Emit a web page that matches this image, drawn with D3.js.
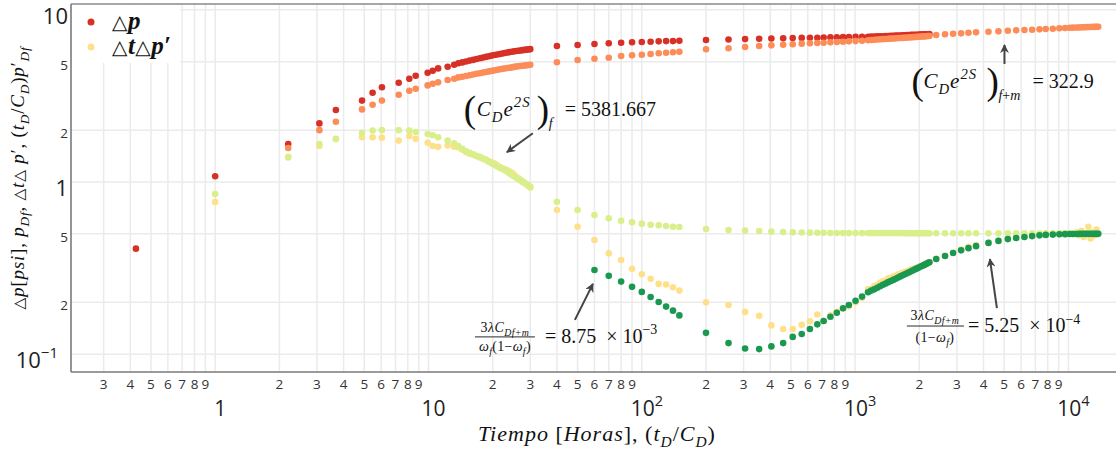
<!DOCTYPE html>
<html>
<head>
<meta charset="utf-8">
<script src="https://cdn.jsdelivr.net/npm/d3@7"></script>
<style>
  body { margin: 0; background: #fff; }
</style>
</head>
<body>
<div id="container"></div>
<script>
// ---- datos ----
let tiempo = [
  0.425, 1.0, 2.2, 3.08, 3.68, 4.88, 5.47, 6.05, 7.25, 8.13, 8.71, 9.91, 10.47, 11.1, 12.3, 13.2, 13.8,
  14.4, 15.0, 15.6, 16.2, 16.8, 17.4, 18.0, 18.6, 19.2, 19.8, 20.4, 21.0, 21.6, 22.2, 22.8, 23.4, 24.0, 24.6, 25.2, 25.8, 26.4, 27.0, 27.6, 28.2, 28.8, 29.4, 30.0,
  40, 50, 60, 70, 80, 90, 100, 110, 120, 130, 140, 150,
  200, 255, 305, 355, 405, 460, 510, 562, 614, 665, 712, 766, 821, 878, 935, 1005, 1078,
  1150, 1190, 1230, 1270, 1310, 1350, 1390, 1430, 1470, 1510, 1550, 1590, 1630, 1670, 1710, 1750, 1790, 1830, 1870, 1910, 1950, 1990, 2030, 2070, 2110, 2150, 2190, 2230,
  2400, 2640, 2880, 3140, 3400, 3690, 4220, 4700, 5200, 5690, 6220, 6760, 7320, 7830, 8450, 9070, 9640, 10130,
  10500, 10900, 11200, 11500, 11800, 12100, 12400, 12700, 13000, 13300, 13550, 13800
];

// Δp [psi]
let deltaP = [
  0.41, 1.08, 1.66, 2.19, 2.62, 2.97, 3.30, 3.55, 3.77, 3.98, 4.14, 4.31, 4.43, 4.57, 4.67, 4.80, 4.89,
  4.95, 5.01, 5.07, 5.12, 5.18, 5.23, 5.28, 5.33, 5.37, 5.42, 5.46, 5.50, 5.54, 5.58, 5.61, 5.65, 5.68, 5.71, 5.74, 5.77, 5.79, 5.81, 5.83, 5.85, 5.87, 5.89, 5.91,
  6.16, 6.25, 6.33, 6.39, 6.44, 6.48, 6.50, 6.52, 6.56, 6.58, 6.58, 6.61,
  6.68, 6.73, 6.76, 6.79, 6.81, 6.83, 6.85, 6.87, 6.88, 6.89, 6.91, 6.92, 6.93, 6.94, 6.95, 6.96, 6.97,
  6.98, 6.99, 7.00, 7.01, 7.02, 7.03, 7.04, 7.05, 7.06, 7.07, 7.08, 7.09, 7.10, 7.11, 7.12, 7.13, 7.14, 7.15, 7.16, 7.16, 7.17, 7.18, 7.19, 7.20, 7.21, 7.21, 7.22, 7.23,
  null, null, null, null, null, null, null, null, null, null, null, null, null, null, null, null, null, null,
  null, null, null, null, null, null, null, null, null, null, null, null
];

// p_Df
let pDf = [
  null, null, 1.575, 2.00, 2.24, 2.64, 2.81, 2.97, 3.21, 3.39, 3.48, 3.64, 3.72, 3.79, 3.91, 3.98, 4.05,
  4.09, 4.13, 4.17, 4.21, 4.25, 4.28, 4.32, 4.35, 4.39, 4.42, 4.45, 4.48, 4.51, 4.54, 4.56, 4.59, 4.61, 4.63, 4.66, 4.68, 4.70, 4.72, 4.73, 4.75, 4.76, 4.78, 4.79,
  4.96, 5.11, 5.20, 5.27, 5.39, 5.44, 5.48, 5.54, 5.59, 5.63, 5.67, 5.71,
  5.90, 5.98, 6.08, 6.16, 6.22, 6.27, 6.31, 6.36, 6.39, 6.42, 6.44, 6.48, 6.50, 6.52, 6.56, 6.58, 6.61,
  6.66, 6.68, 6.70, 6.72, 6.74, 6.76, 6.77, 6.79, 6.80, 6.82, 6.83, 6.85, 6.86, 6.87, 6.89, 6.90, 6.91, 6.93, 6.94, 6.95, 6.96, 6.98, 6.99, 7.00, 7.01, 7.02, 7.04, 7.05,
  7.14, 7.21, 7.26, 7.30, 7.36, 7.40, 7.46, 7.50, 7.56, 7.60, 7.63, 7.66, 7.70, 7.74, 7.77, 7.81, 7.84, 7.87,
  7.88, 7.89, 7.90, 7.91, 7.92, 7.93, 7.94, 7.95, 7.96, 7.96, 7.97, 7.98
];

// Δt Δp'
let derivada = [
  null, 0.765, 1.39, 1.62, 1.77, 1.82, 1.82, 1.81, 1.74, 1.85, 1.785, 1.69, 1.62, 1.60, 1.63, 1.60, 1.59,
  1.54, 1.49, 1.46, 1.44, 1.41, 1.39, 1.37, 1.35, 1.32, 1.30, 1.28, 1.25, 1.22, 1.20, 1.19, 1.17, 1.15, 1.13, 1.10, 1.07, 1.05, 1.03, 1.01, 0.99, 0.97, 0.95, 0.93,
  0.688, 0.550, 0.460, 0.385, 0.352, 0.313, 0.291, 0.274, 0.256, 0.254, 0.245, 0.234,
  0.200, 0.193, 0.176, 0.167, 0.147, 0.140, 0.140, 0.148, 0.155, 0.170, 0.156, 0.168, 0.176, 0.184, 0.190, 0.200, 0.212,
  0.238, 0.240, 0.249, 0.253, 0.260, 0.265, 0.268, 0.276, 0.278, 0.282, 0.286, 0.290, 0.293, 0.297, 0.300, 0.303, 0.306, 0.310, 0.313, 0.316, 0.318, 0.321, 0.324, 0.327, 0.331, 0.335, 0.338, 0.342,
  0.358, 0.373, 0.388, 0.405, 0.420, 0.430, 0.444, 0.456, 0.466, 0.474, 0.480, 0.485, 0.490, 0.494, 0.496, 0.497, 0.498, 0.500,
  0.50, 0.51, 0.49, 0.52, 0.48, 0.50, 0.55, 0.47, 0.51, 0.49, 0.53, 0.50
];

// (tD/CD) p'Df  - modelo homogeneo
let derivHomogeneo = [
  null, 0.852, 1.40, 1.66, 1.785, 1.93, 1.99, 2.00, 2.00, 1.99, 1.95, 1.90, 1.87, 1.82, 1.74, 1.68, 1.62,
  1.56, 1.51, 1.48, 1.45, 1.42, 1.40, 1.37, 1.34, 1.31, 1.28, 1.26, 1.23, 1.21, 1.19, 1.17, 1.15, 1.12, 1.10, 1.08, 1.06, 1.04, 1.02, 1.00, 0.99, 0.97, 0.955, 0.94,
  0.768, 0.688, 0.643, 0.615, 0.596, 0.583, 0.573, 0.565, 0.560, 0.555, 0.550, 0.548,
  0.533, 0.526, 0.522, 0.519, 0.515, 0.512, 0.510, 0.509, 0.508, 0.507, 0.507, 0.506, 0.506, 0.505, 0.505, 0.505, 0.505,
  0.505, 0.505, 0.505, 0.505, 0.505, 0.505, 0.505, 0.505, 0.505, 0.505, 0.505, 0.505, 0.505, 0.505, 0.504, 0.504, 0.504, 0.504, 0.504, 0.504, 0.504, 0.504, 0.504, 0.504, 0.504, 0.504, 0.504, 0.504,
  0.504, 0.504, 0.504, 0.504, 0.504, 0.504, 0.504, 0.504, 0.504, 0.503, 0.503, 0.503, 0.503, 0.503, 0.503, 0.503, 0.503, 0.503,
  0.503, 0.503, 0.503, 0.503, 0.503, 0.503, 0.503, 0.503, 0.503, 0.503, 0.503, 0.503
];

// (tD/CD) p'Df  - modelo doble porosidad
let derivDoble = [
  null, null, null, null, null, null, null, null, null, null, null, null, null, null, null, null, null,
  null, null, null, null, null, null, null, null, null, null, null, null, null, null, null, null, null, null, null, null, null, null, null, null, null, null, null,
  null, null, 0.308, 0.285, 0.264, 0.246, 0.230, 0.215, 0.201, 0.189, 0.179, 0.168,
  0.133, 0.116, 0.108, 0.107, 0.111, 0.116, 0.126, 0.131, 0.140, 0.149, 0.156, 0.165, 0.174, 0.185, 0.193, 0.204, 0.216,
  0.229, 0.234, 0.238, 0.243, 0.248, 0.253, 0.257, 0.262, 0.266, 0.270, 0.274, 0.279, 0.283, 0.287, 0.291, 0.295, 0.299, 0.303, 0.307, 0.311, 0.315, 0.319, 0.323, 0.326, 0.330, 0.334, 0.338, 0.342,
  0.357, 0.372, 0.387, 0.401, 0.413, 0.424, 0.443, 0.455, 0.466, 0.473, 0.479, 0.485, 0.490, 0.493, 0.495, 0.497, 0.498, 0.499,
  0.499, 0.499, 0.500, 0.500, 0.500, 0.500, 0.500, 0.500, 0.500, 0.500, 0.500, 0.500
];

// ticks
let xMajorTicks = [1, 10, 100, 1000, 10000];
let xMajorLabels = [["1", ""], ["10", ""], ["10", "2"], ["10", "3"], ["10", "4"]];
let yTicks = [0.1, 0.2, 0.5, 1, 2, 5, 10];
let yTickLabels = [["10", "\u22121"], ["2", ""], ["5", ""], ["1", ""], ["2", ""], ["5", ""], ["10", ""]];
let yTickMajor = [true, false, false, true, false, false, true];

// ---- layout ----
let w = 1116;
let h = 458;
let pLeft = 71, pRight = 1118, pTop = 4, pBottom = 372;
let serif = "'Liberation Serif','DejaVu Serif',serif";
let sans = "'Open Sans','DejaVu Sans',sans-serif";

let viz = d3.select("#container").append("svg")
    .attr("width", w)
    .attr("height", h)
    .style("background-color", "#fff");

let x = d3.scaleLog().domain([0.2109, 17080]).range([pLeft, pRight]);
let y = d3.scaleLog().domain([0.0788, 10.81]).range([pBottom, pTop]);

// grid
let xTicksAll = x.ticks();
viz.append("g").selectAll("line").data(xTicksAll).enter().append("line")
    .attr("x1", d => x(d)).attr("x2", d => x(d))
    .attr("y1", pTop).attr("y2", pBottom)
    .attr("stroke", "#ebebeb").attr("stroke-width", 1.5);
viz.append("g").selectAll("line").data(yTicks).enter().append("line")
    .attr("x1", pLeft).attr("x2", pRight)
    .attr("y1", d => y(d)).attr("y2", d => y(d))
    .attr("stroke", "#ebebeb").attr("stroke-width", 1.5);

// frame
viz.append("line").attr("x1", pLeft).attr("x2", pLeft).attr("y1", pTop).attr("y2", pBottom)
    .attr("stroke", "#7a7a7a").attr("stroke-width", 1.6);
viz.append("line").attr("x1", pLeft).attr("x2", pRight).attr("y1", pBottom).attr("y2", pBottom)
    .attr("stroke", "#7a7a7a").attr("stroke-width", 1.6);
viz.append("line").attr("x1", pLeft).attr("x2", pRight).attr("y1", pTop).attr("y2", pTop)
    .attr("stroke", "#8a8a8a").attr("stroke-width", 1.4);

// x tick labels: digits row + powers row
let isPow = v => Math.abs(Math.log10(v) - Math.round(Math.log10(v))) < 1e-9;
viz.append("g").selectAll("text").data(xTicksAll.filter(v => !isPow(v))).enter().append("text")
    .attr("x", d => x(d)).attr("y", 388.5)
    .attr("text-anchor", "middle")
    .attr("font-family", sans).attr("font-size", 13.5).attr("fill", "#333")
    .text(d => Math.round(d / Math.pow(10, Math.floor(Math.log10(d) + 1e-9))));

xMajorTicks.forEach((v, i) => {
  let t = viz.append("text").attr("x", x(v) + 5).attr("y", 415.5)
      .attr("text-anchor", "middle").attr("font-family", sans).attr("font-size", 21).attr("fill", "#222");
  t.append("tspan").text(xMajorLabels[i][0]);
  if (xMajorLabels[i][1]) t.append("tspan").attr("font-size", 14.5).attr("dy", -10).text(xMajorLabels[i][1]);
});

// y tick labels
yTicks.forEach((v, i) => {
  let major = yTickMajor[i];
  let hasSup = yTickLabels[i][1] !== "";
  let t = viz.append("text").attr("x", hasSup ? 58 : 68).attr("y", y(v) + (major ? 14 : 8))
      .attr("text-anchor", "end").attr("font-family", sans)
      .attr("font-size", major ? 22 : 13.5).attr("fill", major ? "#222" : "#333");
  t.append("tspan").text(yTickLabels[i][0]);
  if (hasSup) t.append("tspan").attr("font-size", 15).attr("dy", -10).text(yTickLabels[i][1]);
});

// math text helper
function mathText(parent, px, py, parts, size, anchor, spacing) {
  let t = parent.append("text").attr("x", px).attr("y", py)
      .attr("font-family", serif).attr("font-size", size)
      .attr("text-anchor", anchor || "start").attr("fill", "#111");
  if (spacing) t.attr("letter-spacing", spacing);
  let shift = 0;
  parts.forEach(([s, kind]) => {
    let sub = kind.includes("sub"), sup = kind.includes("sup");
    let target = sub ? size * 0.28 : sup ? -size * 0.42 : 0;
    let ts = t.append("tspan").text(s).attr("dy", target - shift);
    shift = target;
    if (sub || sup) ts.attr("font-size", size * 0.7);
    if (kind[0] === "i") ts.attr("font-style", "italic");
    if (kind === "tri") ts.attr("font-family", "'DejaVu Sans'").attr("font-size", size * 0.8);
  });
  return t;
}

// series
let series = [
  { values: deltaP, color: "#d73027" },
  { values: pDf, color: "#fc8d59" },
  { values: derivada, color: "#fee08b" },
  { values: derivHomogeneo, color: "#d9ef8b" },
  { values: derivDoble, color: "#1a9850" }
];
series.forEach(s => {
  let pts = tiempo.map((t, i) => ({ t: t, v: s.values[i] })).filter(d => d.v != null);
  viz.append("g").selectAll("circle").data(pts).enter().append("circle")
      .attr("cx", d => x(d.t)).attr("cy", d => y(d.v))
      .attr("r", 3.3).attr("fill", s.color);
});

// legend
viz.append("rect").attr("x", 72).attr("y", 5).attr("width", 108).attr("height", 58).attr("fill", "#fff");
viz.append("circle").attr("cx", 91).attr("cy", 22).attr("r", 3.5).attr("fill", "#d73027");
viz.append("circle").attr("cx", 91).attr("cy", 47).attr("r", 3.5).attr("fill", "#fee08b");
mathText(viz, 112, 29, [["\u25B3", "tri"], ["p", "i"]], 25, "start", 0.5).attr("font-weight", "bold");
mathText(viz, 112, 54, [["\u25B3", "tri"], ["t", "i"], ["\u25B3", "tri"], ["p", "i"], ["\u2032", "r"]], 25, "start", 0.5).attr("font-weight", "bold");

// axis titles
mathText(viz, 597, 441, [["Tiempo", "i"], [" [", "r"], ["Horas", "i"], ["], (", "r"], ["t", "i"], ["D", "isub"], ["/", "r"], ["C", "i"], ["D", "isub"], [")", "r"]], 22, "middle", 1);
mathText(viz, 0, 0, [["\u25B3", "tri"], ["p", "i"], ["[", "r"], ["psi", "i"], ["], ", "r"], ["p", "i"], ["Df", "isub"], [", ", "r"],
  ["\u25B3", "tri"], ["t", "i"], ["\u25B3", "tri"], [" p", "i"], ["\u2032", "r"], [", (", "r"], ["t", "i"], ["D", "isub"], ["/", "r"],
  ["C", "i"], ["D", "isub"], [")", "r"], ["p", "i"], ["\u2032", "r"], ["Df", "isub"]], 19, "middle", 0.8)
  .attr("transform", "translate(24,178) rotate(-90)");

// annotations
let defs = viz.append("defs");
defs.append("marker").attr("id", "arr").attr("viewBox", "0 0 10 10")
    .attr("refX", 9).attr("refY", 5).attr("markerWidth", 4.5).attr("markerHeight", 4.5)
    .attr("orient", "auto")
  .append("path").attr("d", "M0,0 L10,5 L0,10 L3,5 z").attr("fill", "#444");

function arrow(tx, ty, dx, dy) {
  viz.append("line").attr("x1", tx + dx).attr("y1", ty + dy).attr("x2", tx).attr("y2", ty)
      .attr("stroke", "#444").attr("stroke-width", 2).attr("marker-end", "url(#arr)");
}
function paren(px, py, s) {
  viz.append("text").attr("x", px).attr("y", py).attr("font-family", serif)
      .attr("font-size", 37).attr("fill", "#111").text(s);
}
function bar(x1, x2, py) {
  viz.append("line").attr("x1", x1).attr("x2", x2).attr("y1", py).attr("y2", py)
      .attr("stroke", "#111").attr("stroke-width", 0.9);
}
let cDe2S = [["C", "i"], ["D", "isub"], ["e", "i"], ["2S", "isup"]];

// (CDe2S)f
let a1 = [x(23.3), y(1.49)];
arrow(a1[0], a1[1], 26, -19);
paren(a1[0] - 43, a1[1] - 30, "(");
mathText(viz, a1[0] - 30, a1[1] - 36, cDe2S, 21, "start", 1);
paren(a1[0] + 30, a1[1] - 30, ")");
mathText(viz, a1[0] + 42, a1[1] - 24, [["f", "i"]], 14);
mathText(viz, a1[0] + 58, a1[1] - 36, [["= 5381.667", "r"]], 20);

// (CDe2S)f+m
let a2 = [x(5015), y(6.25)];
arrow(a2[0], a2[1], 0, 19);
paren(a2[0] - 93, a2[1] + 49, "(");
mathText(viz, a2[0] - 81, a2[1] + 43, cDe2S, 21, "start", 1);
paren(a2[0] - 18, a2[1] + 49, ")");
mathText(viz, a2[0] - 6, a2[1] + 55, [["f", "i"], ["+", "r"], ["m", "i"]], 14);
mathText(viz, a2[0] + 28, a2[1] + 43, [["= 322.9", "r"]], 20);

// lambda / omega (1-omega)
let a3 = [x(59.0), y(0.256)];
arrow(a3[0], a3[1], -18, 36);
mathText(viz, a3[0] - 88, a3[1] + 48, [["3", "r"], ["\u03BB", "i"], ["C", "i"], ["Df+m", "isub"]], 14, "middle", 0.4);
bar(a3[0] - 118, a3[0] - 58, a3[1] + 53);
mathText(viz, a3[0] - 88, a3[1] + 67, [["\u03C9", "i"], ["f", "isub"], ["(1\u2212", "r"], ["\u03C9", "i"], ["f", "isub"], [")", "r"]], 14, "middle", 0.3);
mathText(viz, a3[0] - 48, a3[1] + 59, [["= 8.75 \u00A0\u00D7 10", "r"], ["\u22123", "rsup"]], 20);

// lambda / (1-omega)
let a4 = [x(4285), y(0.357)];
arrow(a4[0], a4[1], 7, 49);
mathText(viz, a4[0] - 55, a4[1] + 61, [["3", "r"], ["\u03BB", "i"], ["C", "i"], ["Df+m", "isub"]], 14, "middle", 0.4);
bar(a4[0] - 83, a4[0] - 26, a4[1] + 67);
mathText(viz, a4[0] - 55, a4[1] + 83, [["(1\u2212", "r"], ["\u03C9", "i"], ["f", "isub"], [")", "r"]], 14, "middle", 0.3);
mathText(viz, a4[0] - 22, a4[1] + 73, [["= 5.25 \u00A0\u00D7 10", "r"], ["\u22124", "rsup"]], 20);
</script>
</body>
</html>
